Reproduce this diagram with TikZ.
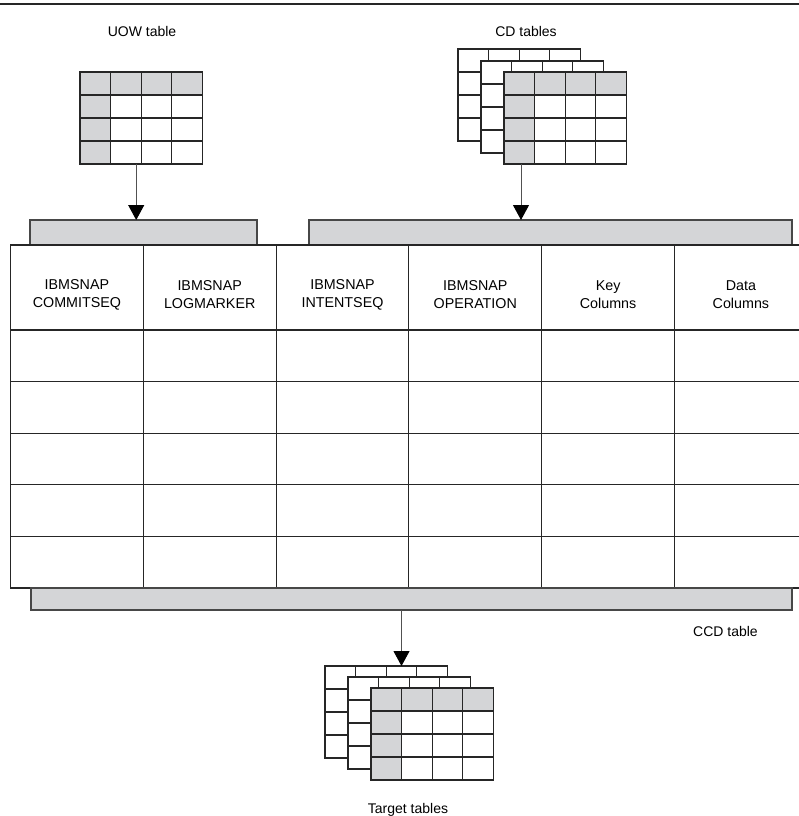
\documentclass[tikz,border=0pt]{standalone}
\usepackage{fontspec}
\setmainfont{Liberation Sans}
\usetikzlibrary{arrows.meta}

\definecolor{cellgray}{HTML}{D4D5D7}
\definecolor{ink}{HTML}{262626}

\tikzset{
  gridline/.style={draw=ink, line width=1.1pt},
  gridframe/.style={rectangle, inner sep=0pt, outer sep=0pt,
    minimum width=122.4pt, minimum height=92pt, fill=white},
  bar/.style={rectangle, inner sep=0pt, outer sep=0pt, fill=cellgray,
    draw=ink!85, line width=1.1pt},
  tableframe/.style={rectangle, inner sep=0pt, outer sep=0pt,
    draw=ink, line width=1.1pt, fill=white},
  headtext/.style={align=center, inner sep=0pt,
    font=\fontsize{14.3}{18}\selectfont},
  caption/.style={inner sep=0pt, font=\fontsize{14}{17}\selectfont},
  flow/.style={draw=ink!80, line width=1pt,
    -{Triangle[width=16pt,length=15pt,color=black,fill=black]}},
}

% a plain table sketch, stacked behind the others
\newcommand\backgrid[3]{%
  \node[gridframe, gridline, anchor=north west] (#1) at (#2,#3) {};
  \foreach \k in {1,2,3}{
    \draw[gridline] ({#2+\k*30.6},#3) -- ++(0,92);
    \draw[gridline] (#2,{#3+\k*23}) -- ++(122.4,0);
  }%
}
% a table sketch with a shaded heading row and key column
\newcommand\frontgrid[3]{%
  \node[gridframe, anchor=north west] (#1) at (#2,#3) {};
  \fill[cellgray] (#2,#3) rectangle ++(122.4,23);
  \fill[cellgray] (#2,#3) rectangle ++(30.6,92);
  \foreach \k in {1,2,3}{
    \draw[gridline] ({#2+\k*30.6},#3) -- ++(0,92);
    \draw[gridline] (#2,{#3+\k*23}) -- ++(122.4,0);
  }%
  \draw[gridline] (#1.north west) rectangle (#1.south east);
}

\begin{document}
\begin{tikzpicture}[x=1pt, y=-1pt]
  \useasboundingbox (0,0) rectangle (799,816);
  \clip (0,0) rectangle (799,816);

  % rule across the top
  \draw[draw=ink, line width=1.6pt] (0,4) -- (799,4);

  % unit-of-work table
  \node[caption, anchor=base] (uowlabel) at (142,37) {UOW table};
  \frontgrid{uow}{80}{72}

  % change-data tables
  \node[caption, anchor=base] (cdlabel) at (526,37) {CD tables};
  \backgrid{cdback}{458}{49}
  \backgrid{cdmid}{481}{61}
  \frontgrid{cdfront}{504}{72}

  % join bars over the consistent-change-data table
  \node[bar, minimum width=227pt, minimum height=25pt, anchor=north west]
    (uowbar) at (30,220) {};
  \node[bar, minimum width=483pt, minimum height=25pt, anchor=north west]
    (cdbar) at (309,220) {};

  % consistent-change-data table
  \node[tableframe, minimum width=797pt, minimum height=343pt, anchor=north west]
    (ccd) at (10.5,245) {};
  \foreach \c in {1,...,5}
    \draw[gridline] ({10.5+\c*132.8},245) -- ++(0,343);
  \draw[gridline] (10.5,330) -- ++(797,0);
  \foreach \r in {1,...,4}
    \draw[gridline] (10.5,{330+\r*51.6}) -- ++(797,0);

  \node[headtext] (col1) at (76.9,295) {IBMSNAP\\COMMITSEQ};
  \node[headtext] (col2) at (209.7,295) {IBMSNAP\\LOGMARKER};
  \node[headtext] (col3) at (342.5,295) {IBMSNAP\\INTENTSEQ};
  \node[headtext] (col4) at (475.3,295) {IBMSNAP\\OPERATION};
  \node[headtext] (col5) at (608.1,295) {Key\\Columns};
  \node[headtext] (col6) at (740.9,295) {Data\\Columns};

  \node[bar, minimum width=761pt, minimum height=22pt, anchor=north west]
    (ccdbar) at (31,588) {};
  \node[caption, anchor=base] (ccdlabel) at (725.5,636) {CCD table};

  % target tables
  \backgrid{tgtback}{325}{666}
  \backgrid{tgtmid}{348}{677}
  \frontgrid{tgtfront}{371}{688}
  \node[caption, anchor=base] (tgtlabel) at (408,813) {Target tables};

  % data flow
  \draw[flow] ([xshift=-5pt]uow.south) -- ([xshift=-5pt]uow.south |- uowbar.north);
  \draw[flow] ([xshift=17pt]cdfront.south west) -- ([xshift=17pt]cdfront.south west |- cdbar.north);
  \draw[flow] ([xshift=-10pt]ccdbar.south) -- ([xshift=-10pt]ccdbar.south |- tgtback.north);
\end{tikzpicture}
\end{document}
